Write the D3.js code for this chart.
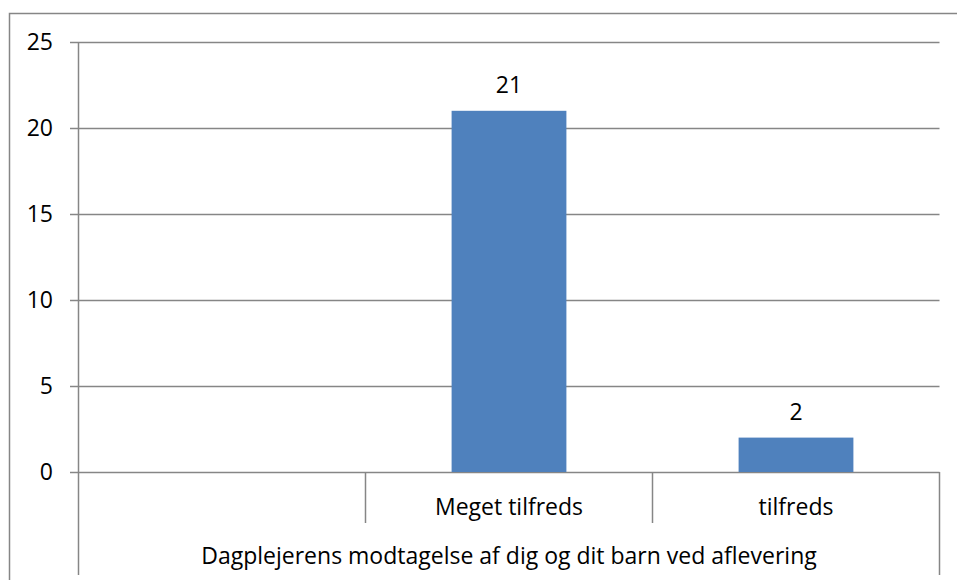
<!DOCTYPE html>
<html><head><meta charset="utf-8">
<script src="https://cdn.jsdelivr.net/npm/d3@7"></script>
<style>body{margin:0;background:#fff}svg{display:block}text{font-family:"Open Sans","Liberation Sans",sans-serif;fill:#000}</style>
</head><body><svg id="c" width="957" height="580"></svg>
<script>
const categories = ["", "Meget tilfreds", "tilfreds"];
const values = [null, 21, 2];
const yTicks = [0, 5, 10, 15, 20, 25];
const groupLabel = "Dagplejerens modtagelse af dig og dit barn ved aflevering";

const svg = d3.select("#c");
const W = 957, H = 580;
const L = 78.5, R = 939.5, T = 42, B = 472;
const FS = "23px";
const x = d3.scaleBand().domain(categories.map((d,i)=>i)).range([L, R]).paddingInner(0).paddingOuter(0);
const y = d3.scaleLinear().domain([0, 25]).range([B, T]);
const grey = "#868686";

// outer border
svg.append("path").attr("d", `M9.5,${H} V13.5 H${W}`).attr("fill","none").attr("stroke",grey).attr("stroke-width",1.5);

// gridlines
svg.append("g").selectAll("line").data(yTicks).join("line")
  .attr("x1", 70).attr("x2", R).attr("y1", d=>Math.round(y(d))+0.5).attr("y2", d=>Math.round(y(d))+0.5)
  .attr("stroke", grey).attr("stroke-width", 1.5);
// y labels
svg.append("g").selectAll("text").data(yTicks).join("text")
  .attr("x", 53).attr("y", d=>y(d)).attr("dy","0.36em").attr("text-anchor","end")
  .style("font-size",FS).text(d=>d);

// vertical axis line + extension
svg.append("line").attr("x1",L).attr("x2",L).attr("y1",T).attr("y2",575).attr("stroke",grey).attr("stroke-width",1.5);
svg.append("line").attr("x1",R).attr("x2",R).attr("y1",B).attr("y2",575).attr("stroke",grey).attr("stroke-width",1.5);
// category dividers
const divs = categories.slice(1).map((d,i)=>x(i+1));
svg.append("g").selectAll("line").data(divs).join("line")
  .attr("x1",d=>d).attr("x2",d=>d).attr("y1",B).attr("y2",523).attr("stroke",grey).attr("stroke-width",1.5);

// bars
const bw = x.bandwidth()*0.4;
const data = categories.map((c,i)=>({c,i,v:values[i]})).filter(d=>d.v!=null);
svg.append("g").selectAll("rect").data(data).join("rect")
  .attr("x", d=>x(d.i)+x.bandwidth()/2-bw/2).attr("width", bw)
  .attr("y", d=>y(d.v)).attr("height", d=>B-y(d.v)).attr("fill","#4F81BD");
svg.append("g").selectAll("text").data(data).join("text")
  .attr("x", d=>x(d.i)+x.bandwidth()/2).attr("y", d=>y(d.v)-18).attr("text-anchor","middle")
  .style("font-size",FS).text(d=>d.v);

// category labels
svg.append("g").selectAll("text").data(categories).join("text")
  .attr("x",(d,i)=>x(i)+x.bandwidth()/2).attr("y",515).attr("text-anchor","middle")
  .style("font-size",FS).text(d=>d);
svg.append("text").attr("x",(L+R)/2).attr("y",564).attr("text-anchor","middle")
  .style("font-size",FS).text(groupLabel);
</script></body></html>
